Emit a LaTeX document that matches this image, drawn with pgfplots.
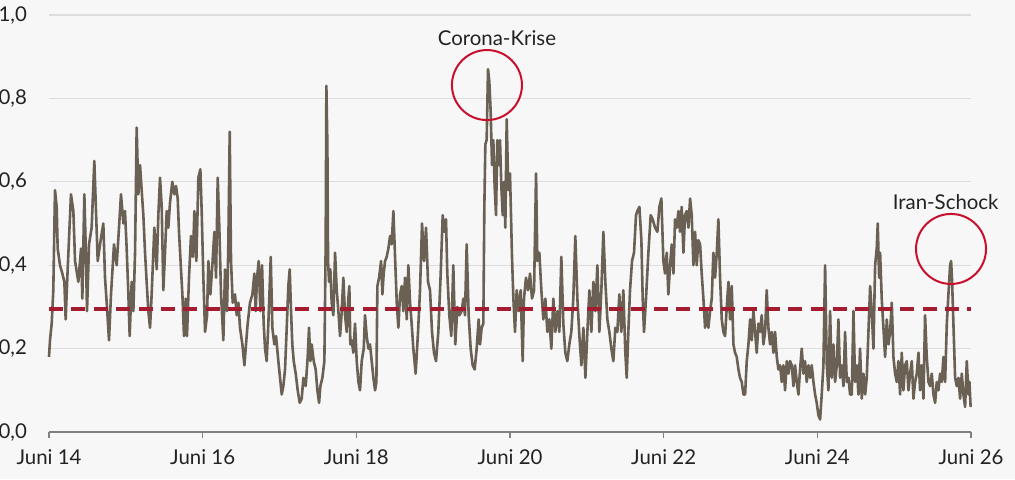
\documentclass[border=0pt]{standalone}
\usepackage{pgfplots}
\pgfplotsset{compat=1.18}
\usepackage{pgfplotstable}
\usepackage{fontspec}
\setmainfont{Lato}
\definecolor{bg}{HTML}{F7F7F7}
\definecolor{linecol}{HTML}{6B6054}
\definecolor{dashred}{HTML}{A51C30}
\definecolor{circred}{HTML}{C8102E}
\definecolor{gridgray}{HTML}{DDDDDD}
\definecolor{axisgray}{HTML}{808080}
\definecolor{textcol}{HTML}{222222}
\pgfplotstableread{
x y
2014.500 0.18
2014.513 0.22
2014.535 0.26
2014.556 0.34
2014.578 0.58
2014.600 0.54
2014.613 0.44
2014.643 0.40
2014.674 0.38
2014.700 0.36
2014.717 0.27
2014.743 0.39
2014.786 0.57
2014.817 0.53
2014.839 0.41
2014.882 0.36
2014.917 0.44
2014.934 0.32
2014.960 0.57
2014.977 0.45
2014.995 0.29
2015.021 0.45
2015.055 0.49
2015.090 0.65
2015.108 0.55
2015.134 0.41
2015.164 0.45
2015.207 0.50
2015.229 0.37
2015.251 0.31
2015.281 0.22
2015.307 0.33
2015.346 0.45
2015.381 0.40
2015.411 0.49
2015.437 0.57
2015.468 0.50
2015.489 0.53
2015.511 0.44
2015.533 0.33
2015.550 0.23
2015.576 0.36
2015.598 0.29
2015.620 0.43
2015.641 0.73
2015.663 0.57
2015.685 0.64
2015.706 0.58
2015.728 0.52
2015.750 0.43
2015.771 0.36
2015.793 0.29
2015.815 0.25
2015.836 0.33
2015.871 0.49
2015.902 0.39
2015.923 0.52
2015.945 0.61
2015.967 0.54
2015.988 0.34
2016.010 0.43
2016.032 0.53
2016.053 0.49
2016.075 0.55
2016.105 0.60
2016.131 0.57
2016.153 0.59
2016.175 0.56
2016.192 0.48
2016.218 0.39
2016.236 0.33
2016.257 0.23
2016.279 0.32
2016.296 0.23
2016.322 0.37
2016.348 0.47
2016.374 0.42
2016.392 0.53
2016.418 0.41
2016.444 0.61
2016.470 0.63
2016.487 0.53
2016.509 0.37
2016.531 0.24
2016.557 0.28
2016.574 0.41
2016.600 0.33
2016.626 0.40
2016.652 0.48
2016.674 0.37
2016.696 0.61
2016.717 0.49
2016.739 0.33
2016.769 0.22
2016.791 0.39
2016.817 0.29
2016.834 0.45
2016.852 0.72
2016.869 0.41
2016.891 0.31
2016.921 0.33
2016.943 0.28
2016.965 0.31
2016.986 0.25
2017.017 0.21
2017.043 0.16
2017.064 0.21
2017.086 0.26
2017.116 0.31
2017.147 0.33
2017.173 0.38
2017.190 0.29
2017.208 0.37
2017.229 0.41
2017.251 0.29
2017.273 0.40
2017.294 0.26
2017.312 0.20
2017.333 0.17
2017.355 0.26
2017.386 0.42
2017.407 0.25
2017.433 0.21
2017.455 0.23
2017.485 0.17
2017.507 0.13
2017.529 0.09
2017.550 0.11
2017.572 0.15
2017.594 0.25
2017.615 0.35
2017.633 0.39
2017.650 0.29
2017.667 0.21
2017.685 0.17
2017.711 0.14
2017.737 0.10
2017.763 0.07
2017.789 0.08
2017.811 0.13
2017.841 0.11
2017.867 0.18
2017.884 0.25
2017.902 0.17
2017.919 0.21
2017.945 0.17
2017.971 0.15
2017.993 0.10
2018.015 0.07
2018.032 0.11
2018.058 0.13
2018.084 0.17
2018.101 0.45
2018.110 0.83
2018.123 0.69
2018.132 0.41
2018.145 0.36
2018.162 0.39
2018.179 0.31
2018.201 0.28
2018.223 0.43
2018.245 0.34
2018.266 0.29
2018.288 0.23
2018.310 0.29
2018.331 0.37
2018.353 0.28
2018.375 0.24
2018.396 0.32
2018.409 0.35
2018.422 0.21
2018.440 0.22
2018.461 0.19
2018.483 0.26
2018.505 0.17
2018.527 0.12
2018.548 0.10
2018.570 0.17
2018.596 0.20
2018.613 0.28
2018.635 0.23
2018.657 0.20
2018.678 0.21
2018.700 0.17
2018.722 0.13
2018.744 0.10
2018.761 0.12
2018.774 0.35
2018.796 0.37
2018.822 0.41
2018.839 0.33
2018.856 0.38
2018.874 0.41
2018.895 0.42
2018.917 0.44
2018.939 0.47
2018.960 0.45
2018.982 0.53
2019.004 0.42
2019.026 0.31
2019.047 0.25
2019.069 0.33
2019.091 0.35
2019.112 0.29
2019.134 0.37
2019.156 0.27
2019.177 0.40
2019.199 0.31
2019.216 0.27
2019.242 0.20
2019.272 0.14
2019.303 0.24
2019.329 0.34
2019.355 0.50
2019.381 0.41
2019.407 0.49
2019.433 0.36
2019.459 0.34
2019.485 0.24
2019.511 0.19
2019.537 0.17
2019.567 0.24
2019.598 0.38
2019.624 0.52
2019.645 0.48
2019.667 0.51
2019.684 0.38
2019.710 0.28
2019.736 0.23
2019.762 0.40
2019.788 0.21
2019.815 0.30
2019.841 0.28
2019.871 0.29
2019.893 0.32
2019.914 0.28
2019.936 0.45
2019.962 0.28
2019.988 0.20
2020.014 0.16
2020.040 0.15
2020.066 0.20
2020.092 0.27
2020.110 0.21
2020.131 0.25
2020.153 0.26
2020.166 0.54
2020.179 0.69
2020.196 0.70
2020.214 0.87
2020.231 0.84
2020.248 0.77
2020.266 0.64
2020.283 0.70
2020.300 0.59
2020.318 0.52
2020.335 0.70
2020.353 0.64
2020.370 0.70
2020.387 0.59
2020.405 0.52
2020.422 0.60
2020.439 0.49
2020.457 0.75
2020.478 0.58
2020.500 0.62
2020.526 0.42
2020.544 0.32
2020.565 0.24
2020.587 0.34
2020.613 0.29
2020.639 0.34
2020.665 0.17
2020.682 0.32
2020.708 0.37
2020.735 0.34
2020.761 0.38
2020.786 0.32
2020.813 0.34
2020.839 0.62
2020.856 0.41
2020.882 0.43
2020.908 0.34
2020.934 0.27
2020.960 0.32
2020.986 0.24
2021.012 0.27
2021.038 0.20
2021.064 0.32
2021.090 0.24
2021.116 0.29
2021.142 0.24
2021.168 0.42
2021.194 0.26
2021.220 0.19
2021.246 0.17
2021.272 0.21
2021.298 0.24
2021.324 0.32
2021.350 0.47
2021.377 0.32
2021.403 0.23
2021.429 0.16
2021.455 0.25
2021.481 0.13
2021.507 0.24
2021.533 0.34
2021.559 0.24
2021.585 0.36
2021.611 0.29
2021.637 0.40
2021.663 0.24
2021.689 0.34
2021.715 0.48
2021.741 0.36
2021.767 0.27
2021.793 0.24
2021.819 0.20
2021.845 0.17
2021.871 0.25
2021.897 0.24
2021.923 0.33
2021.949 0.24
2021.975 0.34
2022.001 0.19
2022.019 0.13
2022.040 0.24
2022.062 0.34
2022.088 0.41
2022.114 0.43
2022.140 0.52
2022.158 0.53
2022.184 0.54
2022.210 0.46
2022.227 0.32
2022.244 0.24
2022.270 0.32
2022.301 0.43
2022.331 0.52
2022.357 0.51
2022.388 0.49
2022.418 0.48
2022.444 0.54
2022.470 0.56
2022.496 0.41
2022.518 0.38
2022.540 0.43
2022.561 0.33
2022.583 0.40
2022.605 0.45
2022.627 0.38
2022.648 0.51
2022.670 0.49
2022.692 0.53
2022.713 0.48
2022.735 0.54
2022.757 0.43
2022.778 0.52
2022.800 0.53
2022.822 0.49
2022.844 0.56
2022.865 0.52
2022.887 0.40
2022.909 0.48
2022.930 0.40
2022.952 0.46
2022.974 0.45
2022.995 0.38
2023.017 0.32
2023.039 0.25
2023.060 0.29
2023.082 0.25
2023.104 0.29
2023.126 0.32
2023.147 0.43
2023.169 0.37
2023.191 0.43
2023.212 0.51
2023.234 0.37
2023.256 0.27
2023.277 0.24
2023.299 0.23
2023.321 0.30
2023.343 0.36
2023.364 0.27
2023.386 0.35
2023.408 0.21
2023.429 0.19
2023.451 0.18
2023.473 0.15
2023.494 0.13
2023.516 0.12
2023.538 0.09
2023.560 0.09
2023.581 0.17
2023.603 0.21
2023.625 0.27
2023.646 0.22
2023.668 0.29
2023.690 0.24
2023.711 0.19
2023.733 0.26
2023.755 0.24
2023.776 0.28
2023.798 0.21
2023.820 0.24
2023.841 0.34
2023.863 0.25
2023.885 0.21
2023.907 0.24
2023.928 0.19
2023.950 0.24
2023.972 0.18
2023.993 0.15
2024.015 0.16
2024.037 0.12
2024.058 0.16
2024.080 0.10
2024.102 0.17
2024.124 0.14
2024.145 0.17
2024.167 0.16
2024.189 0.11
2024.210 0.16
2024.232 0.12
2024.254 0.09
2024.275 0.15
2024.297 0.20
2024.319 0.14
2024.340 0.17
2024.362 0.12
2024.384 0.16
2024.406 0.13
2024.427 0.16
2024.449 0.12
2024.471 0.09
2024.492 0.07
2024.514 0.04
2024.536 0.03
2024.557 0.09
2024.579 0.16
2024.601 0.40
2024.623 0.16
2024.644 0.10
2024.666 0.29
2024.688 0.13
2024.709 0.21
2024.731 0.12
2024.753 0.16
2024.774 0.27
2024.796 0.13
2024.818 0.16
2024.840 0.11
2024.861 0.24
2024.883 0.12
2024.905 0.13
2024.926 0.09
2024.948 0.09
2024.970 0.29
2024.991 0.12
2025.013 0.16
2025.035 0.09
2025.056 0.20
2025.078 0.08
2025.100 0.14
2025.122 0.09
2025.143 0.13
2025.165 0.24
2025.187 0.35
2025.208 0.29
2025.230 0.20
2025.252 0.40
2025.273 0.44
2025.286 0.50
2025.304 0.37
2025.317 0.43
2025.338 0.32
2025.360 0.25
2025.382 0.18
2025.404 0.27
2025.425 0.21
2025.447 0.24
2025.469 0.31
2025.490 0.18
2025.512 0.14
2025.534 0.12
2025.555 0.17
2025.577 0.09
2025.599 0.19
2025.620 0.10
2025.642 0.16
2025.664 0.17
2025.686 0.10
2025.707 0.14
2025.729 0.17
2025.751 0.08
2025.772 0.12
2025.794 0.14
2025.816 0.19
2025.837 0.10
2025.859 0.16
2025.881 0.08
2025.902 0.28
2025.924 0.18
2025.946 0.12
2025.968 0.11
2025.989 0.14
2026.011 0.09
2026.033 0.07
2026.054 0.12
2026.076 0.10
2026.098 0.14
2026.120 0.12
2026.141 0.18
2026.163 0.12
2026.185 0.26
2026.206 0.33
2026.228 0.40
2026.241 0.41
2026.254 0.36
2026.271 0.26
2026.293 0.13
2026.315 0.11
2026.336 0.13
2026.358 0.08
2026.380 0.14
2026.401 0.09
2026.423 0.06
2026.445 0.17
2026.467 0.09
2026.480 0.12
2026.495 0.06
}\series
\begin{document}
\begin{tikzpicture}
\fill[bg] (-24.5pt,-23.5pt) rectangle (483pt,216pt);
\begin{axis}[
  at={(0,0)}, anchor=south west,
  scale only axis, width=461pt, height=208.5pt,
  xmin=2014.5, xmax=2026.5, ymin=0, ymax=1,
  axis x line*=bottom, axis y line*=left,
  x axis line style={draw=axisgray, line width=0.8pt, -},
  y axis line style={draw=none},
  xtick={2014.5,2016.5,2018.5,2020.5,2022.5,2024.5,2026.5},
  xticklabels={Juni 14,Juni 16,Juni 18,Juni 20,Juni 22,Juni 24,Juni 26},
  ytick={0,0.2,0.4,0.6,0.8,1.0},
  ymajorgrids, grid style={draw=gridgray, line width=0.6pt},
  tick align=outside, major tick length=3pt,
  xtick style={draw=axisgray, line width=0.8pt},
  ytick style={draw=none},
  minor tick num=0,
  tick label style={font=\fontsize{10.2}{12}\selectfont, text=textcol},
  xticklabel style={yshift=-2.5pt},
  yticklabel style={xshift=-4.5pt},
  /pgf/number format/.cd, fixed, fixed zerofill, precision=1, use comma, assume math mode=true,
  /pgfplots/.cd,
  clip=false,
]
\addplot[linecol, line width=1.3pt, line join=round] table[x=x,y=y] {\series};
\addplot[dashred, line width=1.6pt, dash pattern=on 7pt off 4.2pt] coordinates {(2014.5,0.295) (2026.5,0.295)};
\addplot[only marks, mark=o, mark size=17.5pt, mark options={draw=circred, line width=1pt}] coordinates {(2020.20,0.832) (2026.24,0.439)};
\node[font=\fontsize{10.2}{12}\selectfont, text=textcol] at (axis cs:2020.33,0.945) {Corona-Krise};
\node[font=\fontsize{10.2}{12}\selectfont, text=textcol] at (axis cs:2026.17,0.552) {Iran-Schock};
\end{axis}
\pgfresetboundingbox
\path[use as bounding box] (-24.5pt,-23.5pt) rectangle (483pt,216pt);
\end{tikzpicture}
\end{document}
